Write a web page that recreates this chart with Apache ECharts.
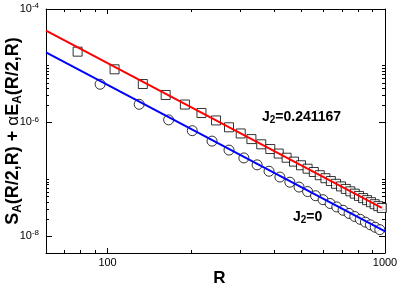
<!DOCTYPE html>
<html><head><meta charset="utf-8">
<script src="https://cdn.jsdelivr.net/npm/echarts@6/dist/echarts.min.js"></script>
<style>html,body{margin:0;padding:0;background:#fff}#c{width:399px;height:284px}</style>
</head><body><div id="c"></div>
<script>
// J2 = 0.241167 (squares)
const squareR = [78,106,134,162,190,218,246,274,302,330,358,386,414,442,470,498,526,554,582,610,638,666,694,722,750,778,806,834,862,890,918,946,974];
const squareVal = [1.77e-5,8.65e-6,4.76e-6,3.05e-6,2.07e-6,1.47e-6,1.086e-6,8.22e-7,6.40e-7,5.09e-7,4.12e-7,3.40e-7,2.83e-7,2.39e-7,2.04e-7,1.76e-7,1.53e-7,1.34e-7,1.175e-7,1.04e-7,9.27e-8,8.30e-8,7.46e-8,6.74e-8,6.11e-8,5.56e-8,5.07e-8,4.64e-8,4.27e-8,3.93e-8,3.62e-8,3.35e-8,3.11e-8];
// J2 = 0 (circles)
const circleR = [94,130,166,202,238,274,310,346,382,418,454,490,526,562,598,634,670,706,742,778,814,850,886,922,958];
const circleVal = [4.72e-6,2.09e-6,1.11e-6,7.16e-7,4.69e-7,3.26e-7,2.37e-7,1.79e-7,1.38e-7,1.09e-7,8.85e-8,7.26e-8,6.05e-8,5.11e-8,4.35e-8,3.73e-8,3.24e-8,2.83e-8,2.49e-8,2.20e-8,1.96e-8,1.75e-8,1.57e-8,1.42e-8,1.29e-8];
// fitted power-law lines
const fitRedR = [60, 974];
const fitRedVal = [4.15e-5, 3.11e-8];
const fitBlueR = [60, 1200];
const fitBlueVal = [1.725e-5, 7.52e-9];
// axes
const xRange = [60, 1000];
const yRange = [5e-9, 1e-4];
const xMajorTicks = [100, 1000];
const xMinorTicks = [70,80,90,200,300,400,500,600,700,800,900];
const yMajorTicks = [1e-8, 1e-6, 1e-4];
const yMinorTicks = [2e-8,3e-8,4e-8,5e-8,6e-8,7e-8,8e-8,9e-8,1e-7,2e-6,3e-6,4e-6,5e-6,6e-6,7e-6,8e-6,9e-6,1e-5];
const xTitle = 'R';
const labelJ2a = 'J₂=0.241167';
const labelJ2b = 'J₂=0';

const pairs = (xs, ys) => xs.map((x, i) => [x, ys[i]]);
const FONT = 'Liberation Sans, Arial, Helvetica, sans-serif';
const gridBox = {left: 46, right: 14, top: 9, bottom: 31, containLabel: false, outerBoundsMode: 'none'};

function axis(kind, pos, grid, ticks, len, showLine, labelVals) {
  const r = kind === 'x' ? xRange : yRange;
  const a = {
    type: 'log', logBase: 10, min: r[0], max: r[1], position: pos, gridIndex: grid,
    axisLine: {show: showLine, lineStyle: {color: '#000', width: 1}},
    axisTick: {show: true, inside: true, length: len, customValues: ticks, lineStyle: {color: '#000', width: 1}},
    axisLabel: {show: false},
    splitLine: {show: false}, minorTick: {show: false}, minorSplitLine: {show: false}
  };
  if (labelVals) {
    a.axisLabel = kind === 'x' ? {
      show: true, customValues: labelVals, margin: 4, color: '#000', fontFamily: FONT, fontSize: 11,
      formatter: v => String(Math.round(v))
    } : {
      show: true, customValues: labelVals, margin: 7, color: '#000', fontFamily: FONT,
      formatter: v => '{b|10}{s|' + Math.round(Math.log10(v)) + '}',
      rich: {
        b: {fontSize: 11, fontFamily: FONT, color: '#000', lineHeight: 14},
        s: {fontSize: 8, fontFamily: FONT, color: '#000', lineHeight: 8, verticalAlign: 'top'}
      }
    };
  }
  return a;
}

const xAxes = [
  axis('x', 'bottom', 0, xMajorTicks, 5, true, xMajorTicks),
  axis('x', 'top', 0, xMajorTicks, 5, true, null),
  axis('x', 'bottom', 1, xMinorTicks, 3, false, null),
  axis('x', 'top', 1, xMinorTicks, 3, false, null)
];
xAxes[0].name = xTitle;
xAxes[0].nameLocation = 'middle';
xAxes[0].nameGap = 17;
xAxes[0].nameMoveOverlap = false;
xAxes[0].nameTextStyle = {fontFamily: FONT, fontSize: 17, fontWeight: 'bold', color: '#000', padding: [0, 0, 0, 8]};

const yAxes = [
  axis('y', 'left', 0, yMajorTicks, 6, true, yMajorTicks),
  axis('y', 'right', 0, yMajorTicks, 6, true, null),
  axis('y', 'left', 1, yMinorTicks, 3, false, null),
  axis('y', 'right', 1, yMinorTicks, 3, false, null)
];
yAxes[0].name = '{b|S}{sub|A}{b|(R/2,R) + }{a|α}{b|E}{sub|A}{b|(R/2,R)}';
yAxes[0].nameLocation = 'middle';
yAxes[0].nameRotate = 90;
yAxes[0].nameGap = 22;
yAxes[0].nameMoveOverlap = false;
yAxes[0].nameTextStyle = {
  rich: {
    b: {fontFamily: FONT, fontSize: 18, fontWeight: 'bold', color: '#000', lineHeight: 22},
    a: {fontFamily: FONT, fontSize: 17, color: '#000', lineHeight: 22},
    sub: {fontFamily: FONT, fontSize: 12, fontWeight: 'bold', color: '#000', lineHeight: 10, verticalAlign: 'bottom'}
  }
};

const jRich = {
  b: {fontFamily: FONT, fontSize: 14, fontWeight: 'bold', fill: '#000', lineHeight: 16},
  sub: {fontFamily: FONT, fontSize: 10, fontWeight: 'bold', fill: '#000', lineHeight: 8, verticalAlign: 'bottom'}
};
function jText(s) {
  return '{b|J}{sub|2}{b|' + s.slice(2) + '}';
}

const option = {
  animation: false,
  backgroundColor: '#fff',
  grid: [Object.assign({}, gridBox), Object.assign({}, gridBox)],
  xAxis: xAxes,
  yAxis: yAxes,
  graphic: [
    {type: 'text', left: 262, top: 110, style: {text: jText(labelJ2a), rich: jRich}},
    {type: 'text', left: 293, top: 210, style: {text: jText(labelJ2b), rich: jRich}}
  ],
  series: [
    {type: 'scatter', data: pairs(squareR, squareVal), symbol: 'rect', symbolSize: 9,
     itemStyle: {color: '#fff', borderColor: '#000', borderWidth: 1}, z: 2},
    {type: 'scatter', data: pairs(circleR, circleVal), symbol: 'circle', symbolSize: 10,
     itemStyle: {color: '#fff', borderColor: '#000', borderWidth: 1}, z: 2},
    {type: 'line', data: pairs(fitRedR, fitRedVal), showSymbol: false, symbol: 'none',
     lineStyle: {color: '#ff0000', width: 2}, z: 3},
    {type: 'line', data: pairs(fitBlueR, fitBlueVal), showSymbol: false, symbol: 'none', clip: false,
     lineStyle: {color: '#0000ff', width: 2}, z: 3}
  ]
};
const chart = echarts.init(document.getElementById('c'), null, {renderer: 'canvas'});
chart.setOption(option);
</script>
</body></html>
